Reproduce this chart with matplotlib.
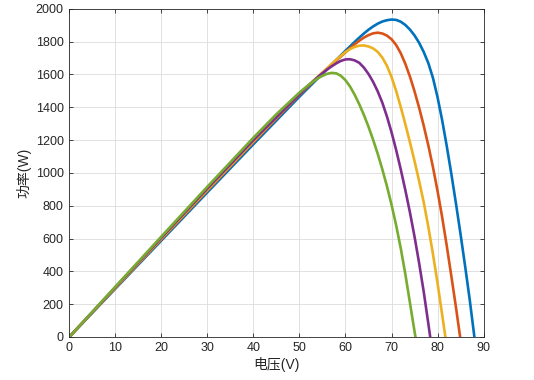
import matplotlib
matplotlib.use("Agg")
import matplotlib.pyplot as plt

# readings taken off the P-V curves (voltage V, power W)
v_blue = [0, 10, 20, 30, 40, 50, 55, 60, 61, 62, 63, 64, 65, 66, 67, 68, 69, 70, 71, 72, 73,
          74, 75, 76, 77, 78, 79, 80, 81, 82, 83, 84, 85, 86, 87, 88]
p_blue = [0, 294, 588, 882, 1175, 1465, 1605, 1745, 1772, 1799, 1825, 1850, 1873, 1893, 1910, 1923,
          1931, 1935, 1933, 1922, 1902, 1874, 1838, 1793, 1737, 1669, 1579, 1461, 1321, 1163, 993,
          813, 625, 429, 224, 0]

v_orange = [0, 10, 20, 30, 40, 50, 55, 60, 61, 62, 63, 64, 65, 66, 67, 68, 69, 70, 71, 72, 73,
            74, 75, 76, 77, 78, 79, 80, 81, 82, 83, 84, 84.9]
p_orange = [0, 298, 596, 893, 1188, 1476, 1610, 1735, 1760, 1784, 1806, 1825, 1840, 1851, 1855,
            1850, 1837, 1815, 1780, 1730, 1665, 1587, 1497, 1397, 1287, 1167, 1035, 889, 730,
            555, 370, 180, 0]

v_yellow = [0, 10, 20, 30, 40, 50, 55, 58, 59, 60, 61, 62, 63, 64, 65, 66, 67, 68, 69, 70, 71,
            72, 73, 74, 75, 76, 77, 78, 79, 80, 81, 81.7]
p_yellow = [0, 300, 600, 897, 1192, 1482, 1612, 1690, 1714, 1737, 1755, 1768, 1776, 1777, 1771,
            1759, 1738, 1703, 1653, 1585, 1500, 1402, 1297, 1187, 1072, 950, 820, 670, 505, 327,
            135, 0]

v_purple = [0, 10, 20, 30, 40, 50, 53, 55, 56, 57, 58, 59, 60, 61, 62, 63, 64, 65, 66, 67, 68,
            69, 70, 71, 72, 73, 74, 75, 76, 77, 78, 78.4]
p_purple = [0, 303, 605, 905, 1200, 1480, 1560, 1608, 1630, 1650, 1668, 1683, 1692, 1693, 1686,
            1671, 1642, 1603, 1555, 1497, 1428, 1344, 1248, 1140, 1022, 895, 759, 611, 449, 274,
            80, 0]

v_green = [0, 10, 20, 30, 40, 45, 50, 52, 53, 54, 55, 56, 57, 58, 59, 60, 61, 62, 63, 64, 65,
           66, 67, 68, 69, 70, 71, 72, 73, 74, 75, 75.2]
p_green = [0, 306, 612, 916, 1215, 1358, 1490, 1537, 1558, 1577, 1592, 1604, 1610, 1607, 1592,
           1565, 1526, 1476, 1418, 1353, 1281, 1202, 1116, 1022, 919, 806, 681, 541, 383, 208,
           33, 0]

curves = [(v_blue, p_blue, '#0072BD'),
          (v_orange, p_orange, '#D95319'),
          (v_yellow, p_yellow, '#EDB120'),
          (v_purple, p_purple, '#7E2F8E'),
          (v_green, p_green, '#77AC30')]

fig = plt.figure(figsize=(5.34, 3.8), dpi=100)
ax = fig.add_axes([0.1298, 0.1134, 0.7758, 0.8632])

for v, p, c in curves:
    ax.plot(v, p, color=c, linewidth=1.9, solid_joinstyle='round')

ax.set_xlim(0, 90)
ax.set_ylim(0, 2000)
ax.set_xticks(range(0, 91, 10))
ax.set_yticks(range(0, 2001, 200))
ax.grid(True, color='#dcdcdc', linewidth=0.6)
ax.set_axisbelow(True)
ax.tick_params(direction='in', top=True, right=True, length=3, width=0.6,
               labelsize=9, colors='#262626', pad=4)
for lab in ax.get_xticklabels() + ax.get_yticklabels():
    lab.set_family('Liberation Sans')
for s in ax.spines.values():
    s.set_color('#262626')
    s.set_linewidth(0.6)

fam = ['Liberation Sans', 'Noto Sans CJK SC']
ax.set_xlabel('电压(V)', family=fam, fontsize=10, color='#262626', labelpad=2)
ax.set_ylabel('功率(W)', family=fam, fontsize=10, color='#262626', labelpad=3)

fig.savefig('out.png', dpi=100)
